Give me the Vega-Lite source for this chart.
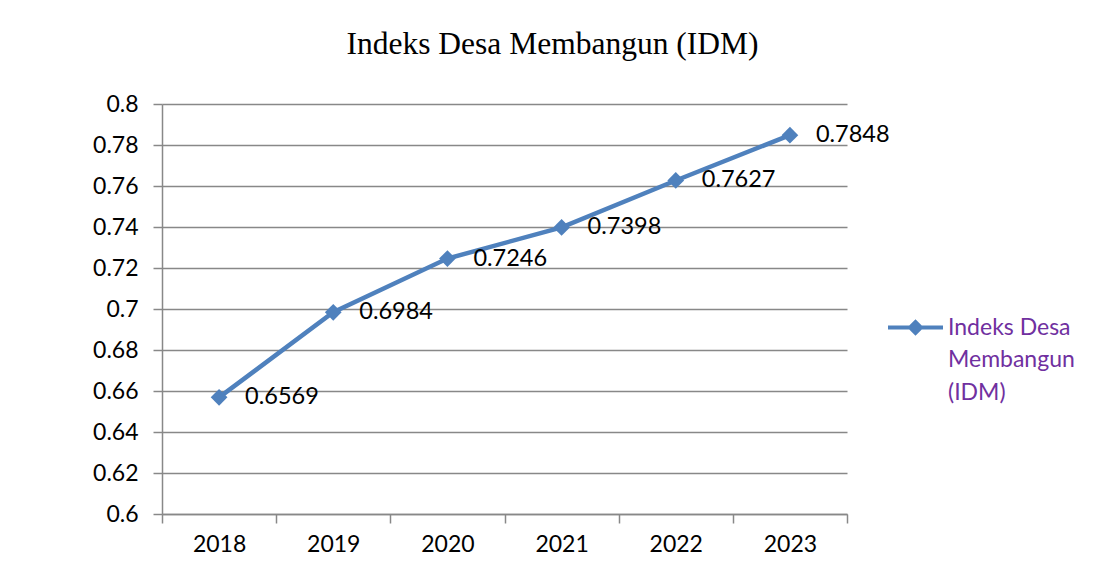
{
  "$schema": "https://vega.github.io/schema/vega-lite/v6.json",
  "width": 685,
  "height": 410,
  "autosize": {"type": "none"},
  "padding": {"left": 162, "top": 104, "right": 246, "bottom": 58},
  "background": "white",
  "title": {
    "text": "Indeks Desa Membangun (IDM)",
    "font": "Liberation Serif",
    "fontSize": 31.5,
    "fontWeight": "normal",
    "color": "black",
    "anchor": "middle",
    "baseline": "alphabetic",
    "offset": 8,
    "dx": 48
  },
  "data": {
    "values": [
      {"year": "2018", "idm": 0.6569, "series": "Indeks Desa Membangun (IDM)"},
      {"year": "2019", "idm": 0.6984, "series": "Indeks Desa Membangun (IDM)"},
      {"year": "2020", "idm": 0.7246, "series": "Indeks Desa Membangun (IDM)"},
      {"year": "2021", "idm": 0.7398, "series": "Indeks Desa Membangun (IDM)"},
      {"year": "2022", "idm": 0.7627, "series": "Indeks Desa Membangun (IDM)"},
      {"year": "2023", "idm": 0.7848, "series": "Indeks Desa Membangun (IDM)"}
    ]
  },
  "encoding": {
    "x": {
      "field": "year",
      "type": "ordinal",
      "bandPosition": 0.5,
      "scale": {"type": "band", "paddingInner": 0, "paddingOuter": 0},
      "axis": {
        "title": null,
        "labelAngle": 0,
        "tickBand": "extent",
        "grid": false,
        "domainColor": "#888888",
        "domainWidth": 1.5,
        "tickColor": "#888888",
        "tickWidth": 1.5,
        "tickSize": 9,
        "labelPadding": 10,
        "labelFont": "Lato",
        "labelFontSize": 23,
        "labelColor": "black"
      }
    },
    "y": {
      "field": "idm",
      "type": "quantitative",
      "scale": {"domain": [0.6, 0.8], "nice": false, "zero": false},
      "axis": {
        "title": null,
        "values": [0.6, 0.62, 0.64, 0.66, 0.68, 0.7, 0.72, 0.74, 0.76, 0.78, 0.8],
        "format": "~g",
        "grid": true,
        "gridColor": "#888888",
        "gridWidth": 1.5,
        "domainColor": "#888888",
        "domainWidth": 1.5,
        "tickColor": "#888888",
        "tickWidth": 1.5,
        "tickSize": 9,
        "labelPadding": 15,
        "labelFont": "Lato",
        "labelFontSize": 23,
        "labelColor": "black"
      }
    }
  },
  "layer": [
    {
      "mark": {"type": "line", "strokeWidth": 4.5},
      "encoding": {
        "color": {
          "field": "series",
          "type": "nominal",
          "scale": {"range": ["#4F81BD"]},
          "legend": {
            "title": null,
            "orient": "none",
            "legendX": 726,
            "legendY": 196,
            "padding": 0,
            "symbolType": "M-1,-0.073L-0.227,-0.073L0,-0.3L0.227,-0.073L1,-0.073L1,0.073L0.227,0.073L0,0.3L-0.227,0.073L-1,0.073Z",
            "symbolSize": 3025,
            "symbolFillColor": "#4F81BD",
            "symbolStrokeWidth": 0,
            "symbolOpacity": 1,
            "labelFont": "Lato",
            "labelFontSize": 23,
            "labelColor": "#7030A0",
            "labelOffset": 5,
            "labelLimit": 300,
            "labelExpr": "['Indeks Desa', 'Membangun', '(IDM)']",
            "encode": {
              "symbols": {"update": {"fill": {"value": "#4F81BD"}, "strokeWidth": {"value": 0}}},
              "labels": {"update": {"lineHeight": {"value": 32.5}}}
            }
          }
        }
      }
    },
    {
      "mark": {"type": "point", "shape": "diamond", "filled": true, "size": 280, "opacity": 1, "color": "#4F81BD"}
    },
    {
      "mark": {"type": "text", "align": "left", "baseline": "middle", "dx": 26, "font": "Lato", "fontSize": 23.5, "color": "black"},
      "encoding": {"text": {"field": "idm", "type": "quantitative", "format": ".4f"}}
    }
  ],
  "config": {"view": {"stroke": null}}
}
